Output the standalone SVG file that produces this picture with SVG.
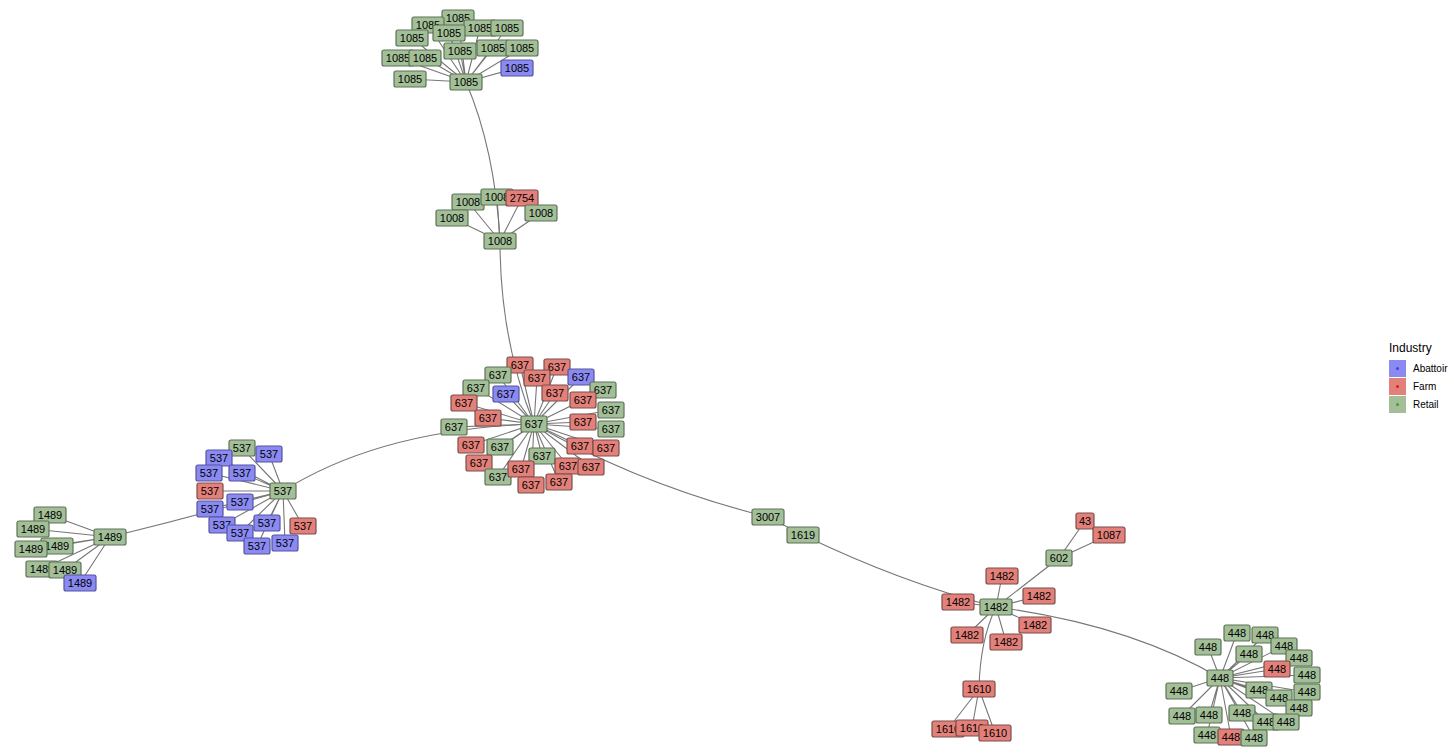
<svg xmlns="http://www.w3.org/2000/svg" width="1454" height="756" viewBox="0 0 1454 756">
<style>
text{font-family:"Liberation Sans",Arial,sans-serif;font-size:11px;text-anchor:middle;fill:#000}
rect{rx:2px;stroke-width:1.2}
.g rect{fill:#a3bf98;stroke:#5e7257}
.r rect{fill:#e4807a;stroke:#7a4f4c}
.b rect{fill:#8a8af2;stroke:#5555a0}
.w4{x:-16px;y:-8px;width:32px;height:16px}
.w3{x:-13px;y:-8px;width:26px;height:16px}
.w2{x:-9px;y:-8px;width:18px;height:16px}
#edges path,#edges line{stroke:#777;stroke-width:1.1;fill:none}
</style>
<rect width="1454" height="756" fill="#fff"/>
<g id="edges">
<path d="M466,82 Q495,150 500,241"/>
<path d="M500,241 Q500,340 534,424"/>
<path d="M534,424 Q380,430 283,491"/>
<path d="M283,491 Q200,515 110,537"/>
<path d="M534,424 Q640,485 768,517"/>
<line x1="768" y1="517" x2="803" y2="535"/>
<path d="M803,535 Q900,582 996,607"/>
<path d="M996,607 Q1130,625 1220,678"/>
<path d="M466,82 L458,18 M466,82 L428,25 M466,82 L449,33 M466,82 L480,28 M466,82 L507,28 M466,82 L412,38 M466,82 L460,51 M466,82 L493,48 M466,82 L522,48 M466,82 L398,58 M466,82 L425,58 M466,82 L410,79 M466,82 L517,68"/>
<path d="M500,241 L468,202 M500,241 L452,218 M500,241 L497,197 M500,241 L522,198 M500,241 L541,213"/>
<path d="M534,424 L520,365 M534,424 L498,375 M534,424 L537,378 M534,424 L557,367 M534,424 L581,377 M534,424 L476,388 M534,424 L506,394 M534,424 L555,393 M534,424 L603,390 M534,424 L464,403 M534,424 L583,400 M534,424 L488,418 M534,424 L611,410 M534,424 L454,427 M534,424 L583,422 M534,424 L611,429 M534,424 L471,445 M534,424 L500,447 M534,424 L580,446 M534,424 L606,448 M534,424 L479,463 M534,424 L542,456 M534,424 L568,466 M534,424 L591,467 M534,424 L521,469 M534,424 L498,477 M534,424 L531,485 M534,424 L559,482"/>
<path d="M283,491 L242,448 M283,491 L269,454 M283,491 L219,458 M283,491 L242,473 M283,491 L209,473 M283,491 L210,491 M283,491 L240,502 M283,491 L210,509 M283,491 L222,525 M283,491 L267,523 M283,491 L240,533 M283,491 L303,526 M283,491 L257,546 M283,491 L285,543"/>
<path d="M110,537 L50,515 M110,537 L33,529 M110,537 L57,546 M110,537 L31,549 M110,537 L42,569 M110,537 L65,570 M110,537 L80,583"/>
<path d="M996,607 L1059,558 L1085,521 M1059,558 L1109,535 M996,607 L1002,576 M996,607 L1039,596 M996,607 L958,602 M996,607 L1035,625 M996,607 L967,635 M996,607 L1006,642 M996,607 Q980,640 979,689 M979,689 L948,729 M979,689 L972,728 M979,689 L995,733"/>
<path d="M1220,678 L1237,633 M1220,678 L1265,635 M1220,678 L1208,647 M1220,678 L1284,646 M1220,678 L1249,654 M1220,678 L1299,658 M1220,678 L1277,669 M1220,678 L1307,675 M1220,678 L1179,691 M1220,678 L1259,690 M1220,678 L1307,692 M1220,678 L1279,698 M1220,678 L1299,708 M1220,678 L1182,716 M1220,678 L1209,715 M1220,678 L1242,713 M1220,678 L1266,722 M1220,678 L1286,722 M1220,678 L1207,735 M1220,678 L1231,737 M1220,678 L1254,738"/>
</g>
<g id="nodes">
<g id="a1" class="g" transform="translate(458,18)"><rect class="w4"/><text y="4">1085</text></g>
<g id="a2" class="g" transform="translate(428,25)"><rect class="w4"/><text y="4">1085</text></g>
<g id="a3" class="g" transform="translate(480,28)"><rect class="w4"/><text y="4">1085</text></g>
<g id="a4" class="g" transform="translate(507,28)"><rect class="w4"/><text y="4">1085</text></g>
<g id="a5" class="g" transform="translate(449,33)"><rect class="w4"/><text y="4">1085</text></g>
<g id="a6" class="g" transform="translate(412,38)"><rect class="w4"/><text y="4">1085</text></g>
<g id="a7" class="g" transform="translate(460,51)"><rect class="w4"/><text y="4">1085</text></g>
<g id="a8" class="g" transform="translate(493,48)"><rect class="w4"/><text y="4">1085</text></g>
<g id="a9" class="g" transform="translate(522,48)"><rect class="w4"/><text y="4">1085</text></g>
<g id="a10" class="g" transform="translate(398,58)"><rect class="w4"/><text y="4">1085</text></g>
<g id="a11" class="g" transform="translate(425,58)"><rect class="w4"/><text y="4">1085</text></g>
<g id="a12" class="g" transform="translate(410,79)"><rect class="w4"/><text y="4">1085</text></g>
<g id="a13" class="b" transform="translate(517,68)"><rect class="w4"/><text y="4">1085</text></g>
<g id="a0" class="g" transform="translate(466,82)"><rect class="w4"/><text y="4">1085</text></g>
<g id="b1" class="g" transform="translate(468,202)"><rect class="w4"/><text y="4">1008</text></g>
<g id="b2" class="g" transform="translate(452,218)"><rect class="w4"/><text y="4">1008</text></g>
<g id="b3" class="g" transform="translate(497,197)"><rect class="w4"/><text y="4">1008</text></g>
<g id="b4" class="r" transform="translate(522,198)"><rect class="w4"/><text y="4">2754</text></g>
<g id="b5" class="g" transform="translate(541,213)"><rect class="w4"/><text y="4">1008</text></g>
<g id="b0" class="g" transform="translate(500,241)"><rect class="w4"/><text y="4">1008</text></g>
<g id="c1" class="r" transform="translate(520,365)"><rect class="w3"/><text y="4">637</text></g>
<g id="c2" class="g" transform="translate(498,375)"><rect class="w3"/><text y="4">637</text></g>
<g id="c3" class="r" transform="translate(557,367)"><rect class="w3"/><text y="4">637</text></g>
<g id="c4" class="r" transform="translate(537,378)"><rect class="w3"/><text y="4">637</text></g>
<g id="c5" class="b" transform="translate(581,377)"><rect class="w3"/><text y="4">637</text></g>
<g id="c6" class="g" transform="translate(476,388)"><rect class="w3"/><text y="4">637</text></g>
<g id="c7" class="b" transform="translate(506,394)"><rect class="w3"/><text y="4">637</text></g>
<g id="c8" class="r" transform="translate(555,393)"><rect class="w3"/><text y="4">637</text></g>
<g id="c9" class="g" transform="translate(603,390)"><rect class="w3"/><text y="4">637</text></g>
<g id="c10" class="r" transform="translate(464,403)"><rect class="w3"/><text y="4">637</text></g>
<g id="c11" class="r" transform="translate(583,400)"><rect class="w3"/><text y="4">637</text></g>
<g id="c12" class="r" transform="translate(488,418)"><rect class="w3"/><text y="4">637</text></g>
<g id="c13" class="g" transform="translate(611,410)"><rect class="w3"/><text y="4">637</text></g>
<g id="c14" class="g" transform="translate(454,427)"><rect class="w3"/><text y="4">637</text></g>
<g id="c15" class="r" transform="translate(583,422)"><rect class="w3"/><text y="4">637</text></g>
<g id="c16" class="g" transform="translate(611,429)"><rect class="w3"/><text y="4">637</text></g>
<g id="c17" class="r" transform="translate(471,445)"><rect class="w3"/><text y="4">637</text></g>
<g id="c18" class="g" transform="translate(500,447)"><rect class="w3"/><text y="4">637</text></g>
<g id="c19" class="r" transform="translate(580,446)"><rect class="w3"/><text y="4">637</text></g>
<g id="c20" class="r" transform="translate(606,448)"><rect class="w3"/><text y="4">637</text></g>
<g id="c21" class="r" transform="translate(479,463)"><rect class="w3"/><text y="4">637</text></g>
<g id="c22" class="g" transform="translate(542,456)"><rect class="w3"/><text y="4">637</text></g>
<g id="c23" class="r" transform="translate(568,466)"><rect class="w3"/><text y="4">637</text></g>
<g id="c24" class="r" transform="translate(591,467)"><rect class="w3"/><text y="4">637</text></g>
<g id="c25" class="g" transform="translate(498,477)"><rect class="w3"/><text y="4">637</text></g>
<g id="c26" class="r" transform="translate(521,469)"><rect class="w3"/><text y="4">637</text></g>
<g id="c27" class="r" transform="translate(531,485)"><rect class="w3"/><text y="4">637</text></g>
<g id="c28" class="r" transform="translate(559,482)"><rect class="w3"/><text y="4">637</text></g>
<g id="c0" class="g" transform="translate(534,424)"><rect class="w3"/><text y="4">637</text></g>
<g id="d1" class="g" transform="translate(242,448)"><rect class="w3"/><text y="4">537</text></g>
<g id="d2" class="b" transform="translate(269,454)"><rect class="w3"/><text y="4">537</text></g>
<g id="d3" class="b" transform="translate(219,458)"><rect class="w3"/><text y="4">537</text></g>
<g id="d4" class="b" transform="translate(242,473)"><rect class="w3"/><text y="4">537</text></g>
<g id="d5" class="b" transform="translate(209,473)"><rect class="w3"/><text y="4">537</text></g>
<g id="d6" class="r" transform="translate(210,491)"><rect class="w3"/><text y="4">537</text></g>
<g id="d7" class="b" transform="translate(210,509)"><rect class="w3"/><text y="4">537</text></g>
<g id="d8" class="b" transform="translate(240,502)"><rect class="w3"/><text y="4">537</text></g>
<g id="d9" class="b" transform="translate(222,525)"><rect class="w3"/><text y="4">537</text></g>
<g id="d10" class="b" transform="translate(267,523)"><rect class="w3"/><text y="4">537</text></g>
<g id="d11" class="b" transform="translate(240,533)"><rect class="w3"/><text y="4">537</text></g>
<g id="d12" class="r" transform="translate(303,526)"><rect class="w3"/><text y="4">537</text></g>
<g id="d13" class="b" transform="translate(257,546)"><rect class="w3"/><text y="4">537</text></g>
<g id="d14" class="b" transform="translate(285,543)"><rect class="w3"/><text y="4">537</text></g>
<g id="d0" class="g" transform="translate(283,491)"><rect class="w3"/><text y="4">537</text></g>
<g id="e1" class="g" transform="translate(50,515)"><rect class="w4"/><text y="4">1489</text></g>
<g id="e2" class="g" transform="translate(33,529)"><rect class="w4"/><text y="4">1489</text></g>
<g id="e3" class="g" transform="translate(57,546)"><rect class="w4"/><text y="4">1489</text></g>
<g id="e4" class="g" transform="translate(31,549)"><rect class="w4"/><text y="4">1489</text></g>
<g id="e5" class="g" transform="translate(42,569)"><rect class="w4"/><text y="4">1489</text></g>
<g id="e6" class="g" transform="translate(65,570)"><rect class="w4"/><text y="4">1489</text></g>
<g id="e7" class="b" transform="translate(80,583)"><rect class="w4"/><text y="4">1489</text></g>
<g id="e0" class="g" transform="translate(110,537)"><rect class="w4"/><text y="4">1489</text></g>
<g id="f1" class="g" transform="translate(768,517)"><rect class="w4"/><text y="4">3007</text></g>
<g id="f2" class="g" transform="translate(803,535)"><rect class="w4"/><text y="4">1619</text></g>
<g id="h1" class="r" transform="translate(1085,521)"><rect class="w2"/><text y="4">43</text></g>
<g id="h2" class="r" transform="translate(1109,535)"><rect class="w4"/><text y="4">1087</text></g>
<g id="h3" class="g" transform="translate(1059,558)"><rect class="w3"/><text y="4">602</text></g>
<g id="h4" class="r" transform="translate(1002,576)"><rect class="w4"/><text y="4">1482</text></g>
<g id="h5" class="r" transform="translate(1039,596)"><rect class="w4"/><text y="4">1482</text></g>
<g id="h6" class="r" transform="translate(958,602)"><rect class="w4"/><text y="4">1482</text></g>
<g id="h7" class="r" transform="translate(1035,625)"><rect class="w4"/><text y="4">1482</text></g>
<g id="h8" class="r" transform="translate(967,635)"><rect class="w4"/><text y="4">1482</text></g>
<g id="h9" class="r" transform="translate(1006,642)"><rect class="w4"/><text y="4">1482</text></g>
<g id="h0" class="g" transform="translate(996,607)"><rect class="w4"/><text y="4">1482</text></g>
<g id="i1" class="r" transform="translate(948,729)"><rect class="w4"/><text y="4">1610</text></g>
<g id="i2" class="r" transform="translate(972,728)"><rect class="w4"/><text y="4">1610</text></g>
<g id="i3" class="r" transform="translate(995,733)"><rect class="w4"/><text y="4">1610</text></g>
<g id="i0" class="r" transform="translate(979,689)"><rect class="w4"/><text y="4">1610</text></g>
<g id="j1" class="g" transform="translate(1237,633)"><rect class="w3"/><text y="4">448</text></g>
<g id="j2" class="g" transform="translate(1265,635)"><rect class="w3"/><text y="4">448</text></g>
<g id="j3" class="g" transform="translate(1208,647)"><rect class="w3"/><text y="4">448</text></g>
<g id="j4" class="g" transform="translate(1284,646)"><rect class="w3"/><text y="4">448</text></g>
<g id="j5" class="g" transform="translate(1249,654)"><rect class="w3"/><text y="4">448</text></g>
<g id="j6" class="g" transform="translate(1299,658)"><rect class="w3"/><text y="4">448</text></g>
<g id="j7" class="r" transform="translate(1277,669)"><rect class="w3"/><text y="4">448</text></g>
<g id="j8" class="g" transform="translate(1307,675)"><rect class="w3"/><text y="4">448</text></g>
<g id="j9" class="g" transform="translate(1179,691)"><rect class="w3"/><text y="4">448</text></g>
<g id="j10" class="g" transform="translate(1259,690)"><rect class="w3"/><text y="4">448</text></g>
<g id="j11" class="g" transform="translate(1307,692)"><rect class="w3"/><text y="4">448</text></g>
<g id="j12" class="g" transform="translate(1279,698)"><rect class="w3"/><text y="4">448</text></g>
<g id="j13" class="g" transform="translate(1299,708)"><rect class="w3"/><text y="4">448</text></g>
<g id="j14" class="g" transform="translate(1182,716)"><rect class="w3"/><text y="4">448</text></g>
<g id="j15" class="g" transform="translate(1209,715)"><rect class="w3"/><text y="4">448</text></g>
<g id="j16" class="g" transform="translate(1242,713)"><rect class="w3"/><text y="4">448</text></g>
<g id="j17" class="g" transform="translate(1266,722)"><rect class="w3"/><text y="4">448</text></g>
<g id="j18" class="g" transform="translate(1286,722)"><rect class="w3"/><text y="4">448</text></g>
<g id="j19" class="g" transform="translate(1207,735)"><rect class="w3"/><text y="4">448</text></g>
<g id="j20" class="r" transform="translate(1231,737)"><rect class="w3"/><text y="4">448</text></g>
<g id="j21" class="g" transform="translate(1254,738)"><rect class="w3"/><text y="4">448</text></g>
<g id="j0" class="g" transform="translate(1220,678)"><rect class="w3"/><text y="4">448</text></g>
</g>
<g id="legend">
<text x="1389" y="352" style="text-anchor:start;font-size:12px">Industry</text>
<rect x="1389" y="360" width="17" height="17" fill="#8a8af2" style="rx:0"/><circle cx="1397.5" cy="368.5" r="1.5" fill="#4444cc"/>
<rect x="1389" y="378" width="17" height="17" fill="#e4807a" style="rx:0"/><circle cx="1397.5" cy="386.5" r="1.5" fill="#cc2222"/>
<rect x="1389" y="396" width="17" height="17" fill="#a3bf98" style="rx:0"/><circle cx="1397.5" cy="404.5" r="1.5" fill="#449944"/>
<text x="1413" y="372" style="text-anchor:start;font-size:10px">Abattoir</text>
<text x="1413" y="390" style="text-anchor:start;font-size:10px">Farm</text>
<text x="1413" y="408" style="text-anchor:start;font-size:10px">Retail</text>
</g>
</svg>
